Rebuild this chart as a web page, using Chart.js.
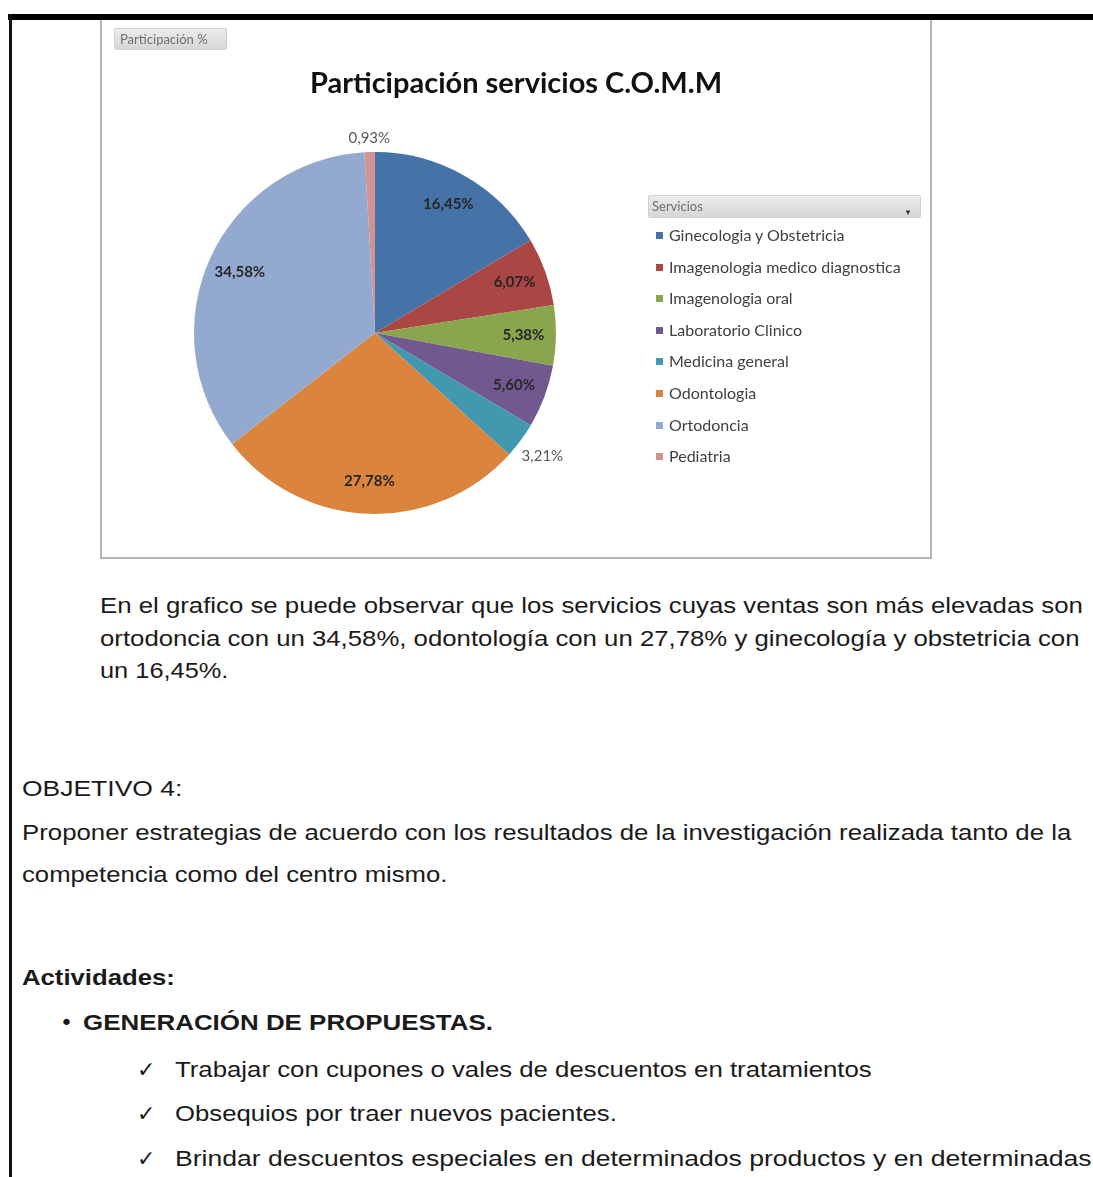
<!DOCTYPE html>
<html lang="es">
<head>
<meta charset="utf-8">
<title>Participación servicios C.O.M.M</title>
<script src="https://cdn.jsdelivr.net/npm/chart.js@4"></script>
<style>
  html, body { margin: 0; padding: 0; background: #fff; }
  body { width: 1093px; height: 1177px; position: relative; overflow: hidden; }
  .rule-top { position: absolute; left: 8px; top: 14px; width: 1085px; height: 6px; background: #000; }
  .rule-left { position: absolute; left: 9px; top: 14px; width: 3px; height: 1163px; background: #111; }
  .chart-box { position: absolute; left: 100px; top: 20px; width: 828px; height: 537px;
               border: 2px solid #b3b3b3; border-top: none; }
  #pie { position: absolute; left: 102px; top: 20px; }
  .field-btn { position: absolute; border-radius: 2px; border: 1px solid #d2d2d2;
               background: linear-gradient(#ececec, #d6d6d6); color: #6f6f6f;
               font-family: Lato, "Open Sans", sans-serif; box-sizing: border-box; }
  .field-btn .arrow { position: absolute; right: 8px; top: 6px; font-size: 8px; color: #333; }
  #legend { position: absolute; left: 655px; top: 225px; font-family: Lato, "Open Sans", sans-serif;
            font-size: 16px; color: #404040; }
  #legend .item { position: absolute; left: 0; white-space: nowrap; height: 20px; line-height: 20px; }
  #legend .sw { position: absolute; left: 1px; top: 7px; width: 7px; height: 7px; }
  #legend .tx { position: absolute; left: 14px; top: 0; }
  .doc { position: absolute; font-family: "Liberation Sans", Arial, sans-serif; font-size: 22px;
         color: #1a1a1a; white-space: nowrap; line-height: 30px; height: 30px; transform-origin: 0 50%; }
  .b { font-weight: bold; }
  .mark { position: absolute; font-family: "DejaVu Sans", sans-serif; font-size: 22px; color: #1a1a1a;
          line-height: 30px; height: 30px; }
</style>
</head>
<body>
<div class="rule-top"></div>
<div class="rule-left"></div>
<div class="chart-box"></div>
<canvas id="pie" width="828" height="537"></canvas>
<div class="field-btn" style="left:114px;top:28px;width:113px;height:22px;font-size:13px;line-height:20px;padding-left:5px;">Participación %</div>
<div class="field-btn" style="left:648px;top:195px;width:273px;height:23px;font-size:13px;line-height:21px;padding-left:3px;">Servicios<span class="arrow">&#9660;</span></div>
<div id="legend"></div>

<div class="doc" data-w="983" style="left:100px;top:591px;">En el grafico se puede observar que los servicios cuyas ventas son más elevadas son</div>
<div class="doc" data-w="980" style="left:100px;top:624px;">ortodoncia con un 34,58%, odontología con un 27,78% y ginecología y obstetricia con</div>
<div class="doc" data-w="128" style="left:100px;top:656px;">un 16,45%.</div>

<div class="doc" data-w="160" style="left:22px;top:774px;">OBJETIVO 4:</div>
<div class="doc" data-w="1049" style="left:22px;top:818px;">Proponer estrategias de acuerdo con los resultados de la investigación realizada tanto de la</div>
<div class="doc" data-w="425" style="left:22px;top:860px;">competencia como del centro mismo.</div>

<div class="doc b" data-w="153" style="left:22px;top:963px;">Actividades:</div>
<div class="mark" style="left:60px;top:1008px;">&#8226;</div>
<div class="doc b" data-w="410" style="left:83px;top:1008px;">GENERACIÓN DE PROPUESTAS.</div>
<div class="mark" style="left:137px;top:1055px;">&#10003;</div>
<div class="doc" data-w="697" style="left:175px;top:1055px;">Trabajar con cupones o vales de descuentos en tratamientos</div>
<div class="mark" style="left:137px;top:1099px;">&#10003;</div>
<div class="doc" data-w="442" style="left:175px;top:1099px;">Obsequios por traer nuevos pacientes.</div>
<div class="mark" style="left:137px;top:1144px;">&#10003;</div>
<div class="doc" data-w="916" style="left:175px;top:1144px;">Brindar descuentos especiales en determinados productos y en determinadas</div>

<script>
// Participación por servicio (%)
const servicios = [
    'Ginecologia y Obstetricia',
    'Imagenologia medico diagnostica',
    'Imagenologia oral',
    'Laboratorio Clinico',
    'Medicina general',
    'Odontologia',
    'Ortodoncia',
    'Pediatria'
];
const participacion = [16.45, 6.07, 5.38, 5.60, 3.21, 27.78, 34.58, 0.93];
const colores = ['#4572A7', '#AA4643', '#89A54E', '#71588F', '#4198AF', '#DB843D', '#93A9CF', '#D19392'];
const titulo = 'Participación servicios C.O.M.M';

function pct(v) {
    return v.toFixed(2).replace('.', ',') + '%';
}

// title centred on the whole canvas, not on the pie area
const chartTitle = {
    id: 'chartTitle',
    afterDraw(chart) {
        const ctx = chart.ctx;
        ctx.save();
        ctx.font = 'bold 29px Lato, "Open Sans", sans-serif';
        ctx.fillStyle = '#111';
        ctx.textAlign = 'center';
        ctx.textBaseline = 'middle';
        ctx.fillText(titulo, chart.width / 2, 64);
        ctx.restore();
    }
};

// labels inside the slices, small slices get theirs outside the rim
const sliceLabels = {
    id: 'sliceLabels',
    afterDatasetsDraw(chart) {
        const ctx = chart.ctx;
        const meta = chart.getDatasetMeta(0);
        ctx.save();
        ctx.textAlign = 'center';
        ctx.textBaseline = 'middle';
        meta.data.forEach((arc, i) => {
            const v = participacion[i];
            const text = pct(v);
            const mid = (arc.startAngle + arc.endAngle) / 2;
            const r = arc.outerRadius;
            let dist;
            if (v < 4) {
                ctx.font = '15px Lato, "Open Sans", sans-serif';
                ctx.fillStyle = '#595959';
                const w = ctx.measureText(text).width;
                dist = r + 6 + (w / 2) * Math.abs(Math.cos(mid)) + 7 * Math.abs(Math.sin(mid));
            } else {
                ctx.font = 'bold 15px Lato, "Open Sans", sans-serif';
                ctx.fillStyle = '#262626';
                dist = r * 0.82;
            }
            ctx.fillText(text, arc.x + Math.cos(mid) * dist, arc.y + Math.sin(mid) * dist);
        });
        ctx.restore();
    }
};

function buildLegend() {
    const box = document.getElementById('legend');
    servicios.forEach((name, i) => {
        const item = document.createElement('div');
        item.className = 'item';
        item.style.top = (i * 31.6) + 'px';
        item.innerHTML = '<span class="sw" style="background:' + colores[i] + '"></span><span class="tx">' + name + '</span>';
        box.appendChild(item);
    });
}

// stretch each line of body text to the width it takes on the page
function fitLines() {
    document.querySelectorAll('.doc').forEach(el => {
        const target = parseFloat(el.dataset.w);
        const natural = el.scrollWidth;
        if (natural > 0) {
            el.style.transform = 'scaleX(' + (target / natural) + ')';
        }
    });
}

window.onload = function() {
    buildLegend();
    fitLines();

    const ctx = document.getElementById('pie').getContext('2d');
    new Chart(ctx, {
        type: 'pie',
        data: {
            labels: servicios,
            datasets: [{
                data: participacion,
                backgroundColor: colores,
                borderWidth: 0
            }]
        },
        options: {
            responsive: false,
            animation: false,
            layout: { padding: { left: 92, right: 374, top: 132, bottom: 43 } },
            plugins: {
                legend: { display: false },
                tooltip: { enabled: false },
                title: { display: false }
            }
        },
        plugins: [sliceLabels, chartTitle]
    });
};
</script>
</body>
</html>
